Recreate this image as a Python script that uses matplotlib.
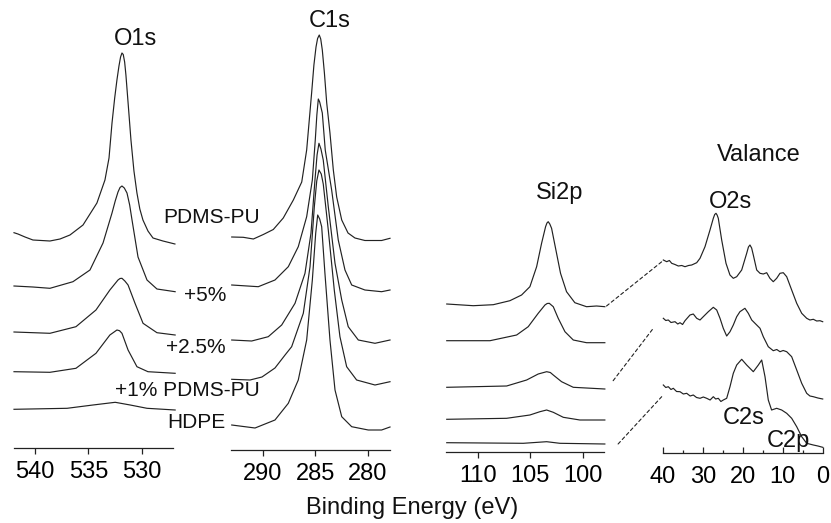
"""
XPS core-level and valence-band spectra for HDPE / PDMS-PU blends.

Four stacked panels (O1s, C1s, Si2p, valence band) sharing one intensity
scale, with dashed guides linking Si2p traces to valence traces.
"""

import matplotlib
matplotlib.use("Agg")
import matplotlib.pyplot as plt
from matplotlib.patches import ConnectionPatch


plt.rcParams['font.family'] = ['Liberation Sans', 'DejaVu Sans']

FIG_W, FIG_H = 831, 523
LINE_COLOR = '#222222'

SAMPLES = ["PDMS-PU", "+5%", "+2.5%", "+1% PDMS-PU", "HDPE"]

# ---- O1s (binding energy in eV, intensity in a.u.) ----
O1S_EV_PDMS = [541.96, 541.59, 540.93, 540.19, 538.6, 537.66, 536.73, 535.51,
               534.21, 533.46, 533.08, 532.80, 532.55, 532.34, 532.15, 532.0,
               531.87, 531.75, 531.62, 531.50, 531.26, 531.03, 530.75, 530.47,
               530.2, 529.91, 529.44, 528.97, 528.04, 526.92]
O1S_CNT_PDMS = [290.3, 289, 286, 283, 282, 284, 288, 298, 320, 343, 365, 400,
                425, 443, 457, 466, 470, 468.5, 461, 448, 415, 383, 352, 330,
                314, 303, 292, 285, 282, 279]
O1S_EV_5 = [541.96, 540.2, 538.6, 536.45, 534.86, 533.64, 532.8, 532.5,
            532.24, 532.05, 531.87, 531.65, 531.4, 531.15, 530.93, 530.37,
            529.53, 528.6, 526.9]
O1S_CNT_5 = [237, 236, 234.7, 241.3, 253, 280, 310, 322, 331, 335.5, 337, 335,
             330, 318, 303, 266, 243, 234, 231.3]
O1S_EV_25 = [541.96, 538.6, 536.17, 534.3, 533.0, 532.24, 532.05, 531.87,
             531.6, 531.3, 530.65, 529.9, 528.6, 526.9]
O1S_CNT_25 = [191, 189.7, 196.3, 213, 233, 243, 244.5, 244.7, 242, 238, 219.7,
              199.7, 190.3, 188]
O1S_EV_1 = [541.96, 538.6, 536.17, 534.3, 533.0, 532.34, 532.1, 531.87,
            531.3, 530.47, 529.44, 526.9]
O1S_CNT_1 = [151.3, 150.7, 154.7, 169.7, 188, 193, 192.3, 189.7, 173, 156.3,
             151.3, 149.7]
O1S_EV_HDPE = [541.96, 537.0, 534.58, 532.5, 531.1, 529.53, 526.9]
O1S_CNT_HDPE = [113.7, 114.7, 118, 120.7, 118, 114.7, 113]

# ---- C1s ----
C1S_EV_PDMS = [292.98, 291.88, 290.92, 289.97, 289.02, 288.07, 287.11, 286.31,
               285.84, 285.36, 285.15, 284.95, 284.8, 284.64, 284.5, 284.35,
               284.15, 283.93, 283.62, 283.30, 282.98, 282.50, 281.90, 281.24,
               280.29, 278.70, 277.90]
C1S_CNT_PDMS = [286, 285.7, 284, 288.5, 293.5, 305, 323, 341, 373, 431, 458,
                476, 484.5, 488, 484, 473, 450, 420, 390, 353, 326, 303, 290,
                285, 282.5, 282.5, 284.7]
C1S_EV_5 = [292.98, 290.45, 288.86, 287.59, 286.64, 285.84, 285.30, 285.02,
            284.87, 284.73, 284.6, 284.35, 284.07, 283.46, 282.83, 282.19,
            281.55, 280.29, 278.70, 277.90]
C1S_CNT_5 = [238, 236.3, 243, 256.3, 276.3, 306.3, 343, 383, 408, 424, 421,
             410, 373, 333, 283, 253, 238, 233, 231.3, 233]
C1S_EV_25 = [292.98, 291.08, 289.50, 288.22, 286.95, 286.0, 285.43, 285.05,
             284.85, 284.67, 284.48, 284.26, 283.78, 283.14, 282.50, 281.88,
             280.92, 279.33, 277.9]
C1S_CNT_25 = [183, 182, 186.3, 198, 219.7, 249.7, 289.7, 343, 368, 379.7,
              374, 363, 316.3, 259.7, 223, 196.3, 183, 179.7, 183]
C1S_EV_1 = [292.98, 291.24, 290.10, 288.86, 287.90, 287.27, 286.16, 285.52,
            285.11, 284.88, 284.67, 284.45, 284.26, 283.78, 283.21, 282.67,
            282.03, 281.08, 279.33, 277.9]
C1S_CNT_1 = [143.7, 143, 146, 155, 168, 176.3, 209.7, 256.3, 316.3, 342, 353,
             349, 339, 293, 233, 186.3, 156.3, 143, 138, 141.3]
C1S_EV_HDPE = [292.98, 290.76, 288.86, 287.59, 286.64, 285.84, 285.30, 284.98,
               284.79, 284.6, 284.41, 284.10, 283.62, 283.14, 282.50, 281.55,
               279.97, 278.70, 277.9]
C1S_CNT_HDPE = [98, 95, 103, 119.7, 143, 183, 243, 289.7, 308, 304, 296.3,
                249.7, 183, 133, 106.3, 96.3, 93, 93, 96]

# ---- Si2p ----
SI_EV_PDMS = [112.94, 110.42, 108.52, 106.94, 105.83, 105.04, 104.40, 103.93,
              103.55, 103.42, 103.30, 103.15, 102.98, 102.57, 102.13, 101.56,
              100.77, 99.66, 98.71, 97.92]
SI_CNT_PDMS = [219, 217.3, 218.3, 222.3, 228, 236.3, 256.3, 279.7, 296.3, 300,
               301.3, 299, 294.7, 273, 249.7, 231.3, 220.3, 216.3, 217, 216.3]
SI_EV_5 = [112.94, 108.83, 106.3, 105.2, 104.25, 103.61, 103.4, 103.2, 102.82,
           102.35, 101.71, 100.92, 99.66, 97.92]
SI_CNT_5 = [182.3, 182.3, 188, 196.3, 209.7, 218, 219.5, 219.7, 216.3, 204.7,
            191.3, 183, 180.3, 180.3]
SI_EV_25 = [112.94, 107.25, 105.35, 104.25, 103.45, 103.1, 102.82, 102.03,
            100.92, 97.92]
SI_CNT_25 = [135.7, 137, 143, 149, 151.3, 150.5, 148, 141.3, 135.7, 134]
SI_EV_1 = [112.94, 107.25, 105.04, 104.09, 103.45, 102.82, 101.87, 100.29,
           97.92]
SI_CNT_1 = [103.7, 104.7, 108, 111.3, 113, 110.7, 105.7, 103, 103]
SI_EV_HDPE = [112.94, 105.67, 103.45, 102.19, 97.92]
SI_CNT_HDPE = [80.3, 79.7, 81.3, 79.7, 79]

# ---- Valence band (three traces: PDMS-PU, +5%, HDPE) ----
VB_EV_PDMS = [39.92, 39.07, 38.4, 37.82, 37.0, 36.17, 35.3, 34.49, 33.6,
              32.81, 31.56, 30.73, 29.48, 28.23, 27.40, 27.05, 26.73, 26.45,
              26.15, 25.30, 24.22, 23.23, 22.39, 21.54, 20.29, 19.04, 18.6,
              18.22, 17.8, 17.38, 16.53, 15.70, 14.88, 14.03, 13.22, 12.38,
              11.53, 10.70, 9.87, 9.02, 7.77, 6.51, 5.26, 4.01, 3.2, 2.35, 1.5,
              0.68, 0.0]
VB_CNT_PDMS = [263, 261.3, 262.5, 259.7, 258.5, 257, 257.5, 256.3, 257.5, 258,
               260.3, 264.7, 276.3, 293, 304.7, 308.5, 309.7, 308, 304.7, 283,
               259.7, 248, 244.7, 246.3, 253, 269.7, 276, 278, 275, 268, 253,
               249.7, 249, 250.3, 244.7, 241.3, 244.7, 249.7, 250.3, 246.3,
               233, 219.7, 209.7, 204.7, 203, 203.7, 202, 202.3, 201.3]
VB_EV_5 = [39.92, 39.3, 38.67, 38.0, 36.99, 36.3, 35.74, 35.1, 34.49, 33.24,
           32.41, 31.56, 30.73, 29.91, 28.65, 27.40, 26.55, 25.72, 24.90,
           24.05, 23.22, 22.39, 21.54, 20.73, 19.48, 18.63, 17.78, 16.53,
           15.70, 14.88, 13.63, 12.38, 11.5, 10.70, 9.9, 9.02, 7.77, 6.51,
           5.26, 4.01, 3.2, 2.35, 1.2, 0.0]
VB_CNT_5 = [204.7, 202.5, 203, 200.5, 201.3, 199, 200.3, 198.5, 202.3, 208,
            209, 204.7, 203, 206.3, 211.3, 215.7, 213, 204.7, 194.7, 187,
            191.3, 198, 206.3, 211.3, 214.7, 209.7, 203, 198, 194.7, 186.3,
            176.3, 172.3, 173.5, 171.3, 172.5, 171.3, 166.3, 153, 139.7,
            129.7, 127, 126.3, 125, 124]
VB_EV_HDPE = [39.92, 39.3, 38.67, 38.0, 37.42, 36.6, 35.74, 34.9, 34.07,
              33.2, 32.41, 31.6, 30.73, 29.9, 29.06, 28.2, 27.40, 26.8, 26.15,
              25.5, 24.90, 24.05, 23.22, 22.39, 21.54, 20.29, 19.04, 17.38,
              16.12, 15.28, 14.45, 13.63, 12.80, 11.53, 10.28, 9.02, 7.77,
              6.51, 5.26, 4.01, 2.35, 1.2, 0.0]
VB_CNT_HDPE = [138, 135.5, 136.3, 133.5, 134.7, 131.5, 131.3, 129, 129.7,
               127, 128, 125.5, 124.7, 126, 124.7, 123, 126.3, 124, 124.7,
               121.5, 123, 124.7, 136.3, 149.7, 158, 163.7, 158, 151.3, 158,
               163, 146.3, 123, 113, 114.7, 113, 109.7, 104.7, 96.3, 86.3,
               79.7, 78, 77, 75.7]

# Dashed guides: Si2p end point -> valence start point (eV, a.u.)
LINK_SI_EV = [97.76, 97.13, 96.66]
LINK_SI_CNT = [217, 142.3, 79]
LINK_VB_EV = [40.3, 42.43, 40.33]
LINK_VB_CNT = [261.3, 194.7, 126.3]

O1S_TICKS = [540, 535, 530]
C1S_TICKS = [290, 285, 280]
SI_TICKS = [110, 105, 100]
VB_TICKS = [40, 30, 20, 10, 0]
VB_MINOR_TICKS = [35, 25, 15, 5]


def add_panel(fig, left_px, right_px, base_px, xlim, ticks, tick_dir='out',
              pad=5.5):
    """Add one spectrum panel; y data are in figure-pixel height units."""
    ax = fig.add_axes([left_px / FIG_W, (FIG_H - base_px) / FIG_H,
                       (right_px - left_px) / FIG_W, base_px / FIG_H])
    ax.set_xlim(*xlim)
    ax.set_ylim(FIG_H - base_px, FIG_H)
    ax.patch.set_alpha(0)
    for side in ['left', 'right', 'top']:
        ax.spines[side].set_visible(False)
    ax.spines['bottom'].set_linewidth(0.9)
    ax.spines['bottom'].set_color(LINE_COLOR)
    ax.set_yticks([])
    ax.set_xticks(ticks)
    ax.tick_params(axis='x', direction=tick_dir, length=4, width=0.9,
                   color=LINE_COLOR, labelsize=17, pad=pad)
    return ax


def plot_traces(ax, traces):
    """Draw the stacked traces of one panel."""
    for ev, cnt in traces:
        ax.plot(ev, cnt, color=LINE_COLOR, linewidth=0.85, clip_on=False)


def fig_text(fig, x_px, y_px, s, size, ha='center'):
    """Place a text by its baseline position given in figure pixels."""
    fig.text(x_px / FIG_W, 1 - y_px / FIG_H, s, fontsize=size, ha=ha,
             va='baseline', color='#111111')


def main():
    fig = plt.figure(figsize=(FIG_W / 100, FIG_H / 100), dpi=100)

    ax_o = add_panel(fig, 14, 173, 448, (541.96, 527.1), O1S_TICKS)
    ax_c = add_panel(fig, 231, 390, 450, (293.05, 277.9), C1S_TICKS)
    ax_si = add_panel(fig, 445.7, 604, 452, (113.04, 98.0), SI_TICKS)
    ax_vb = add_panel(fig, 663, 822.7, 453, (40, 0), VB_TICKS,
                      tick_dir='in', pad=9.5)
    ax_vb.set_xticks(VB_MINOR_TICKS, minor=True)
    ax_vb.tick_params(axis='x', which='minor', direction='in', length=2.5,
                      width=0.9, color=LINE_COLOR)

    plot_traces(ax_o, [(O1S_EV_PDMS, O1S_CNT_PDMS), (O1S_EV_5, O1S_CNT_5),
                       (O1S_EV_25, O1S_CNT_25), (O1S_EV_1, O1S_CNT_1),
                       (O1S_EV_HDPE, O1S_CNT_HDPE)])
    plot_traces(ax_c, [(C1S_EV_PDMS, C1S_CNT_PDMS), (C1S_EV_5, C1S_CNT_5),
                       (C1S_EV_25, C1S_CNT_25), (C1S_EV_1, C1S_CNT_1),
                       (C1S_EV_HDPE, C1S_CNT_HDPE)])
    plot_traces(ax_si, [(SI_EV_PDMS, SI_CNT_PDMS), (SI_EV_5, SI_CNT_5),
                        (SI_EV_25, SI_CNT_25), (SI_EV_1, SI_CNT_1),
                        (SI_EV_HDPE, SI_CNT_HDPE)])
    plot_traces(ax_vb, [(VB_EV_PDMS, VB_CNT_PDMS), (VB_EV_5, VB_CNT_5),
                        (VB_EV_HDPE, VB_CNT_HDPE)])

    # Dashed guides between Si2p and valence traces
    for xa, ya, xb, yb in zip(LINK_SI_EV, LINK_SI_CNT, LINK_VB_EV, LINK_VB_CNT):
        con = ConnectionPatch(xyA=(xa, ya), coordsA=ax_si.transData,
                              xyB=(xb, yb), coordsB=ax_vb.transData,
                              linestyle=(0, (3, 2.5)), linewidth=0.8,
                              color=LINE_COLOR)
        fig.add_artist(con)

    # Region labels
    fig_text(fig, 135.5, 45, "O1s", 17)
    fig_text(fig, 330, 27, "C1s", 17)
    fig_text(fig, 559.7, 198.5, "Si2p", 17)
    fig_text(fig, 759, 161.5, "Valance", 17)
    fig_text(fig, 730, 208.5, "O2s", 17)
    fig_text(fig, 744, 423.5, "C2s", 17)
    fig_text(fig, 788, 447.5, "C2p", 17)

    # Sample labels (right aligned)
    sample_pos = [(260, 223.3), (226.7, 301), (226, 352.7), (260, 396),
                  (225, 428.3)]
    for name, (x, y) in zip(SAMPLES, sample_pos):
        fig_text(fig, x, y, name, 15, ha='right')

    fig_text(fig, 411.7, 514, "Binding Energy (eV)", 17)

    plt.savefig("out.png", dpi=100)
    plt.close()
    print("Plot saved to: out.png")


if __name__ == "__main__":
    main()
